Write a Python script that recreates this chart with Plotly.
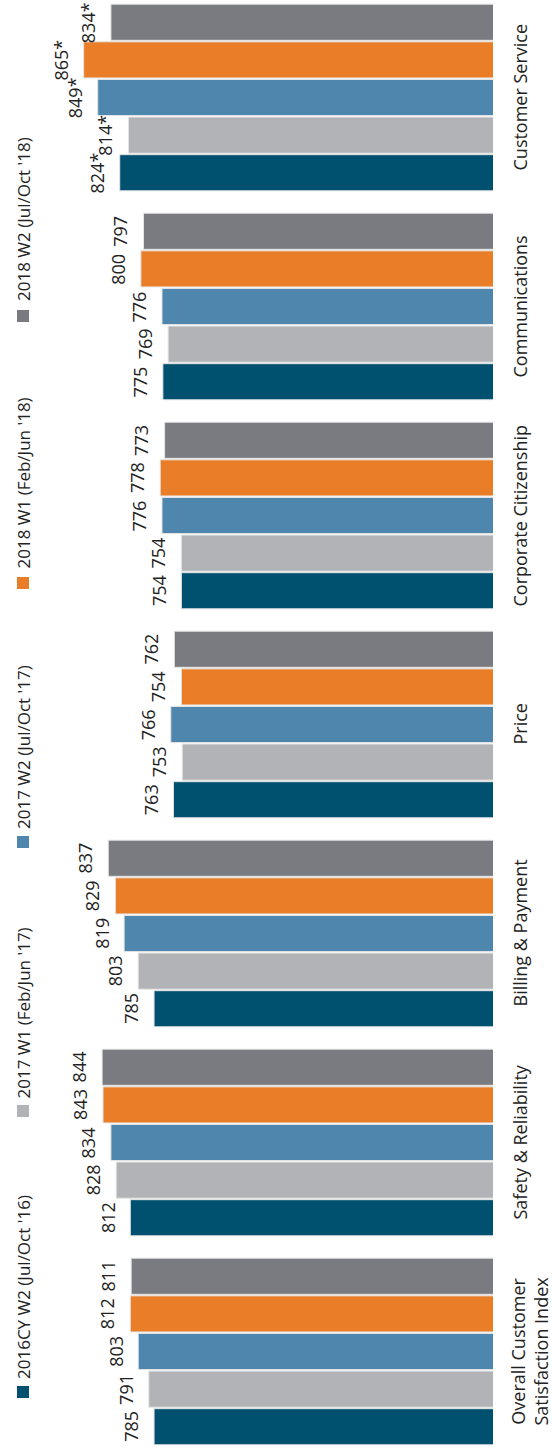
import plotly.graph_objects as go

categories = [
    "Overall Customer<br>Satisfaction Index",
    "Safety & Reliability",
    "Billing & Payment",
    "Price",
    "Corporate Citizenship",
    "Communications",
    "Customer Service",
]
series_names = [
    "2016CY W2 (Jul/Oct '16)",
    "2017 W1 (Feb/Jun '17)",
    "2017 W2 (Jul/Oct '17)",
    "2018 W1 (Feb/Jun '18)",
    "2018 W2 (Jul/Oct '18)",
]
v2016w2 = [785, 812, 785, 763, 754, 775, 824]
v2017w1 = [791, 828, 803, 753, 754, 769, 814]
v2017w2 = [803, 834, 819, 766, 776, 776, 849]
v2018w1 = [812, 843, 829, 754, 778, 800, 865]
v2018w2 = [811, 844, 837, 762, 773, 797, 834]
significant = [False, False, False, False, False, False, True]

series_values = [v2016w2, v2017w1, v2017w2, v2018w1, v2018w2]
colors = ["#00506F", "#B1B3B6", "#4E86AE", "#EA7E28", "#7A7B80"]

W, H = 552, 1449
ML, MR = 0, 59
PW = W - ML - MR
FONT = "Open Sans"
TXT = "#222222"
YRANGE = [-0.4665, 6.4665]
BARGAP = 0.10
NSER = len(series_values)
px_per_cat = H / (YRANGE[1] - YRANGE[0])
slot_px = px_per_cat * (1 - BARGAP) / NSER

fig = go.Figure()
annotations = []
for i, (name, vals, col) in enumerate(zip(series_names, series_values, colors)):
    fig.add_trace(go.Bar(
        y=categories, x=vals, name=name, orientation="h",
        marker=dict(color=col, line=dict(color="#E4E4E4", width=1)),
        showlegend=False,
    ))
    labels = [f"{v}*" if s else f"{v}" for v, s in zip(vals, significant)]
    for c, v, t in zip(categories, vals, labels):
        annotations.append(dict(
            x=v, xref="x", y=c, yref="y",
            xshift=-9, yshift=(i - (NSER - 1) / 2) * slot_px,
            text=t, textangle=-90, showarrow=False,
            xanchor="right", yanchor="middle",
            font=dict(family=FONT, size=18, color=TXT),
        ))

# category labels (rotated)
for c in categories:
    two_lines = "<br>" in c
    annotations.append(dict(
        x=(529 if two_lines else 519) / PW, xref="paper", y=c, yref="y",
        text=c, textangle=-90, showarrow=False,
        xanchor="center", yanchor="middle", align="center",
        font=dict(family=FONT, size=18, color=TXT),
    ))

# manual rotated legend
legend_text_bottom = [1381, 1101, 831, 571, 303]
legend_square_mid = [1392, 1111, 842, 583, 316]
shapes = []
for name, col, tb, sm in zip(series_names, colors, legend_text_bottom, legend_square_mid):
    annotations.append(dict(
        x=23 / PW, xref="paper", y=1 - tb / H, yref="paper",
        text=name, textangle=-90, showarrow=False,
        xanchor="center", yanchor="bottom",
        font=dict(family=FONT, size=17, color=TXT),
    ))
    shapes.append(dict(
        type="rect", xref="paper", yref="paper",
        x0=17 / PW, x1=29 / PW, y0=1 - (sm + 6) / H, y1=1 - (sm - 6) / H,
        fillcolor=col, line=dict(width=0),
    ))

fig.update_layout(
    width=W, height=H,
    margin=dict(l=ML, r=MR, t=0, b=0),
    paper_bgcolor="white", plot_bgcolor="white",
    barmode="group", bargap=BARGAP, bargroupgap=0.04,
    xaxis=dict(range=[960, 400], visible=False, fixedrange=True),
    yaxis=dict(type="category", range=YRANGE, visible=False,
               categoryorder="array", categoryarray=categories, fixedrange=True),
    annotations=annotations, shapes=shapes,
    font=dict(family=FONT),
    hovermode=False,
)

fig.write_html(
    "out.html",
    config={"displayModeBar": False},
    post_script="document.body.style.margin='0';document.body.style.overflow='hidden';",
)
